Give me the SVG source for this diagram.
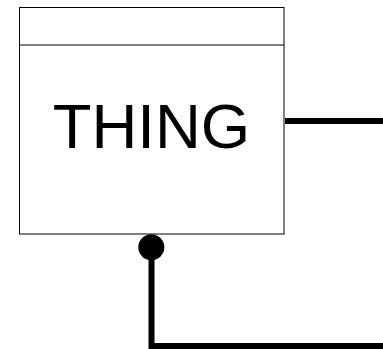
<svg xmlns="http://www.w3.org/2000/svg" width="383" height="349" viewBox="0 0 383 349">
<style>
.box{fill:#fff;stroke:#000;stroke-width:1}
.lbl{font-family:"Liberation Sans",Arial,sans-serif;font-size:63.5px;fill:#000}
.conn{fill:none;stroke:#000;stroke-width:6}
</style>
<rect width="383" height="349" fill="#fff"/>
<g id="thing">
<rect class="box" x="19.5" y="7.5" width="264.5" height="226.5"/>
<line class="box" x1="19.5" y1="45" x2="284" y2="45"/>
<text class="lbl" x="151.5" y="148" text-anchor="middle">THING</text>
</g>
<g id="connectors">
<line class="conn" x1="285" y1="121" x2="383" y2="121"/>
<circle cx="151.3" cy="247.3" r="13" fill="#000"/>
<polyline class="conn" points="151.5,250 151.5,346 383,346"/>
</g>
</svg>
